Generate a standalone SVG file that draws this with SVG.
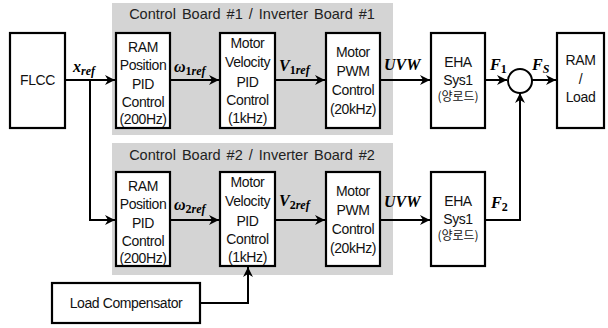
<svg xmlns="http://www.w3.org/2000/svg" width="608" height="328" viewBox="0 0 608 328">
<defs>
<style>
.bg{fill:#d4d4d4;stroke:none}
.box{fill:#fff;stroke:#000;stroke-width:2.2}
.t{font-family:"Liberation Sans",Arial,"Noto Sans CJK KR",sans-serif;font-size:14px;fill:#111;text-anchor:middle;letter-spacing:-0.4px}
.k{font-family:"Noto Sans CJK KR",sans-serif;font-size:12px;fill:#111;text-anchor:middle}
.ttl{font-family:"Liberation Sans",Arial,sans-serif;font-size:14.5px;fill:#222;text-anchor:middle;word-spacing:2px}
.m{font-family:"Liberation Serif","Times New Roman",serif;font-weight:bold;font-style:italic;font-size:16px;fill:#000}
.s{font-size:12px}
.u{font-style:normal}
.ln{fill:none;stroke:#000;stroke-width:2}
</style>
<marker id="ar" viewBox="0 0 10 10" refX="10" refY="5" markerWidth="5" markerHeight="5" orient="auto" markerUnits="strokeWidth">
<path d="M0,0 L10,5 L0,10 L3,5 Z" fill="#000"/>
</marker>
</defs>

<rect class="bg" x="112" y="3" width="281" height="132"/>
<rect class="bg" x="112" y="143" width="281" height="132"/>
<text class="ttl" x="252" y="19">Control Board #1 / Inverter Board #1</text>
<text class="ttl" x="252" y="160">Control Board #2 / Inverter Board #2</text>

<g id="connectors">
<line class="ln" x1="65" y1="80" x2="115" y2="80" marker-end="url(#ar)"/>
<polyline class="ln" points="90,80 90,220 115,220" marker-end="url(#ar)"/>
<line class="ln" x1="170" y1="80" x2="219" y2="80" marker-end="url(#ar)"/>
<line class="ln" x1="275" y1="80" x2="325" y2="80" marker-end="url(#ar)"/>
<line class="ln" x1="380" y1="80" x2="430" y2="80" marker-end="url(#ar)"/>
<line class="ln" x1="485" y1="80" x2="507" y2="80" marker-end="url(#ar)"/>
<line class="ln" x1="532" y1="80" x2="556" y2="80" marker-end="url(#ar)"/>
<line class="ln" x1="170" y1="220" x2="219" y2="220" marker-end="url(#ar)"/>
<line class="ln" x1="275" y1="220" x2="325" y2="220" marker-end="url(#ar)"/>
<line class="ln" x1="380" y1="220" x2="430" y2="220" marker-end="url(#ar)"/>
<polyline class="ln" points="485,220 520,220 520,93" marker-end="url(#ar)"/>
<polyline class="ln" points="200,303 248,303 248,267" marker-end="url(#ar)"/>
</g>

<g id="labels">
<text class="m" x="73" y="72">x<tspan class="s" dy="3">ref</tspan></text>
<text class="m" x="174" y="72">ω<tspan class="s" dy="3"><tspan class="u">1</tspan>ref</tspan></text>
<text class="m" x="279" y="71">V<tspan class="s" dy="3"><tspan class="u">1</tspan>ref</tspan></text>
<text class="m" x="384" y="70">UVW</text>
<text class="m" x="490" y="70">F<tspan class="s u" dy="3">1</tspan></text>
<text class="m" x="532" y="70">F<tspan class="s" dy="3">S</tspan></text>
<text class="m" x="174" y="210">ω<tspan class="s" dy="3"><tspan class="u">2</tspan>ref</tspan></text>
<text class="m" x="279" y="206">V<tspan class="s" dy="3"><tspan class="u">2</tspan>ref</tspan></text>
<text class="m" x="384" y="207">UVW</text>
<text class="m" x="491" y="208">F<tspan class="s u" dy="3">2</tspan></text>
</g>

<g id="flcc">
<rect class="box" x="10" y="33" width="55" height="95"/>
<text class="t" x="37.5" y="85">FLCC</text>
</g>

<g id="pos1">
<rect class="box" x="116" y="33" width="54" height="95"/>
<text class="t" x="143" y="52">RAM</text>
<text class="t" x="143" y="70">Position</text>
<text class="t" x="143" y="89">PID</text>
<text class="t" x="143" y="107">Control</text>
<text class="t" x="143" y="124">(200Hz)</text>
</g>
<g id="vel1">
<rect class="box" x="220" y="33" width="55" height="95"/>
<text class="t" x="247.5" y="48">Motor</text>
<text class="t" x="247.5" y="67">Velocity</text>
<text class="t" x="247.5" y="87">PID</text>
<text class="t" x="247.5" y="105">Control</text>
<text class="t" x="247.5" y="123">(1kHz)</text>
</g>
<g id="pwm1">
<rect class="box" x="326" y="33" width="54" height="95"/>
<text class="t" x="353" y="57">Motor</text>
<text class="t" x="353" y="76">PWM</text>
<text class="t" x="353" y="95">Control</text>
<text class="t" x="353" y="114">(20kHz)</text>
</g>
<g id="eha1">
<rect class="box" x="431" y="33" width="54" height="95"/>
<text class="t" x="458" y="67">EHA</text>
<text class="t" x="458" y="85">Sys1</text>
<text class="k" x="458" y="101">(양로드)</text>
</g>

<g id="sum">
<circle cx="520" cy="81" r="12" fill="#fff" stroke="#000" stroke-width="2"/>
</g>

<g id="load">
<rect class="box" x="557" y="33" width="47" height="95"/>
<text class="t" x="580.5" y="65">RAM</text>
<text class="t" x="580.5" y="84">/</text>
<text class="t" x="580.5" y="102">Load</text>
</g>

<g id="pos2">
<rect class="box" x="116" y="172" width="54" height="94"/>
<text class="t" x="143" y="191">RAM</text>
<text class="t" x="143" y="209">Position</text>
<text class="t" x="143" y="228">PID</text>
<text class="t" x="143" y="246">Control</text>
<text class="t" x="143" y="263">(200Hz)</text>
</g>
<g id="vel2">
<rect class="box" x="220" y="172" width="55" height="94"/>
<text class="t" x="247.5" y="187">Motor</text>
<text class="t" x="247.5" y="206">Velocity</text>
<text class="t" x="247.5" y="226">PID</text>
<text class="t" x="247.5" y="244">Control</text>
<text class="t" x="247.5" y="262">(1kHz)</text>
</g>
<g id="pwm2">
<rect class="box" x="326" y="172" width="54" height="94"/>
<text class="t" x="353" y="196">Motor</text>
<text class="t" x="353" y="215">PWM</text>
<text class="t" x="353" y="234">Control</text>
<text class="t" x="353" y="253">(20kHz)</text>
</g>
<g id="eha2">
<rect class="box" x="431" y="172" width="54" height="94"/>
<text class="t" x="458" y="206">EHA</text>
<text class="t" x="458" y="224">Sys1</text>
<text class="k" x="458" y="240">(양로드)</text>
</g>

<g id="loadcomp">
<rect class="box" x="52" y="283" width="148" height="40"/>
<text class="t" x="126" y="308">Load Compensator</text>
</g>
</svg>
